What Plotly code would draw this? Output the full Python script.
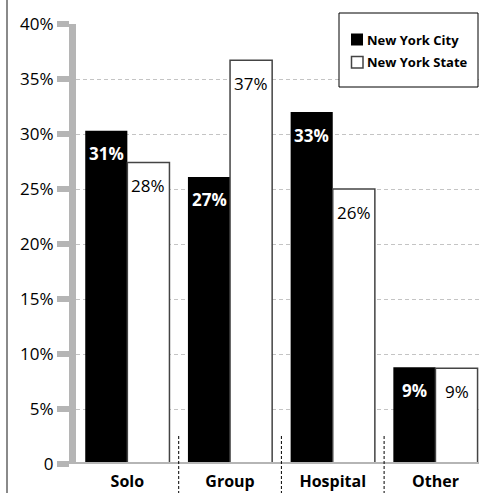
import plotly.graph_objects as go

# ---- data ----
categories = ["Solo", "Group", "Hospital", "Other"]
nyc_values = [30.3, 26.1, 32.0, 8.8]
nys_values = [27.4, 36.7, 25.0, 8.7]
nyc_labels = ["31%", "27%", "33%", "9%"]
nys_labels = ["28%", "37%", "26%", "9%"]
series_names = ["New York City", "New York State"]
y_tickvals = [0, 5, 10, 15, 20, 25, 30, 35, 40]
y_ticktext = ["0", "5%", "10%", "15%", "20%", "25%", "30%", "35%", "40%"]

# ---- layout constants ----
W, H = 484, 493
ML, MR, MT, MB = 76, 5, 24, 29
PW, PH = W - ML - MR, H - MT - MB
BARGAP = 0.18
XMAX = -0.5 + PW / 102.7
FONT = "Open Sans"
AXIS_GRAY = "#b5b5b5"


def px_x(px):
    return (px - ML) / PW


def px_y(py):
    return (H - MB - py) / PH


fig = go.Figure()
fig.add_trace(go.Bar(
    x=categories, y=nyc_values, name=series_names[0],
    marker=dict(color="black", line=dict(width=0)),
))
fig.add_trace(go.Bar(
    x=categories, y=nys_values, name=series_names[1],
    marker=dict(color="white", line=dict(color="#444444", width=1.5)),
))

half = (1 - BARGAP) / 4
annotations = []
for i, (v, t) in enumerate(zip(nyc_values, nyc_labels)):
    annotations.append(dict(x=i - half, y=v, xref="x", yref="y", text=t,
                            showarrow=False, yshift=-23, yanchor="middle",
                            font=dict(family=FONT, size=17, color="white", weight="bold")))
for i, (v, t) in enumerate(zip(nys_values, nys_labels)):
    annotations.append(dict(x=i + half, y=v, xref="x", yref="y", text=t,
                            showarrow=False, yshift=-23, yanchor="middle",
                            font=dict(family=FONT, size=17, color="black")))

# legend text
annotations.append(dict(x=px_x(365), y=px_y(40), xref="paper", yref="paper",
                        text=series_names[0], showarrow=False, xanchor="left", yanchor="middle",
                        font=dict(family=FONT, size=13, color="black", weight="bold")))
annotations.append(dict(x=px_x(365), y=px_y(62), xref="paper", yref="paper",
                        text=series_names[1], showarrow=False, xanchor="left", yanchor="middle",
                        font=dict(family=FONT, size=13, color="black", weight="bold")))

shapes = []
# left frame line
shapes.append(dict(type="line", xref="paper", yref="paper",
                   x0=px_x(7), x1=px_x(7), y0=px_y(H + 2), y1=px_y(-2),
                   line=dict(color="#8a8a8a", width=2)))
# baseline (thick gray)
shapes.append(dict(type="rect", xref="paper", yref="y", ysizemode="pixel", yanchor=0,
                   x0=px_x(57), x1=px_x(479), y0=-6, y1=2,
                   fillcolor=AXIS_GRAY, line=dict(width=0), layer="above"))
# category separators
for k in range(len(categories) - 1):
    shapes.append(dict(type="line", xref="x", yref="paper",
                       x0=k + 0.5, x1=k + 0.5, y0=px_y(436), y1=px_y(H + 2),
                       line=dict(color="black", width=1, dash="3px,2px")))
# legend box
shapes.append(dict(type="rect", xref="paper", yref="paper",
                   x0=px_x(339), x1=px_x(478), y0=px_y(87), y1=px_y(13),
                   fillcolor="white", line=dict(color="black", width=1), layer="above"))
shapes.append(dict(type="rect", xref="paper", yref="paper",
                   x0=px_x(351), x1=px_x(363), y0=px_y(45.5), y1=px_y(33.5),
                   fillcolor="black", line=dict(width=0), layer="above"))
shapes.append(dict(type="rect", xref="paper", yref="paper",
                   x0=px_x(351.5), x1=px_x(363), y0=px_y(68), y1=px_y(56.5),
                   fillcolor="white", line=dict(color="#444444", width=1.5), layer="above"))

fig.update_layout(
    width=W, height=H,
    margin=dict(l=ML, r=MR, t=MT, b=MB, pad=0),
    paper_bgcolor="white", plot_bgcolor="white",
    barmode="group", bargap=BARGAP, bargroupgap=0,
    showlegend=False,
    annotations=annotations,
    shapes=shapes,
    xaxis=dict(
        range=[-0.5, XMAX], showline=False, showgrid=False, zeroline=False,
        ticks="", ticklabelstandoff=6, automargin=False,
        tickfont=dict(family=FONT, size=16, color="black", weight="bold"),
    ),
    yaxis=dict(
        range=[0, 40], tickvals=y_tickvals, ticktext=y_ticktext,
        showline=True, linecolor=AXIS_GRAY, linewidth=7,
        ticks="outside", ticklen=12, tickwidth=6, tickcolor=AXIS_GRAY,
        showgrid=True, gridcolor="#c4c4c4", gridwidth=1, griddash="4px,3px",
        zeroline=False, automargin=False,
        tickfont=dict(family=FONT, size=17, color="black"),
    ),
)

fig.write_html("out.html", config={"displayModeBar": False},
               post_script="document.body.style.margin='0';document.body.style.overflow='hidden';")
